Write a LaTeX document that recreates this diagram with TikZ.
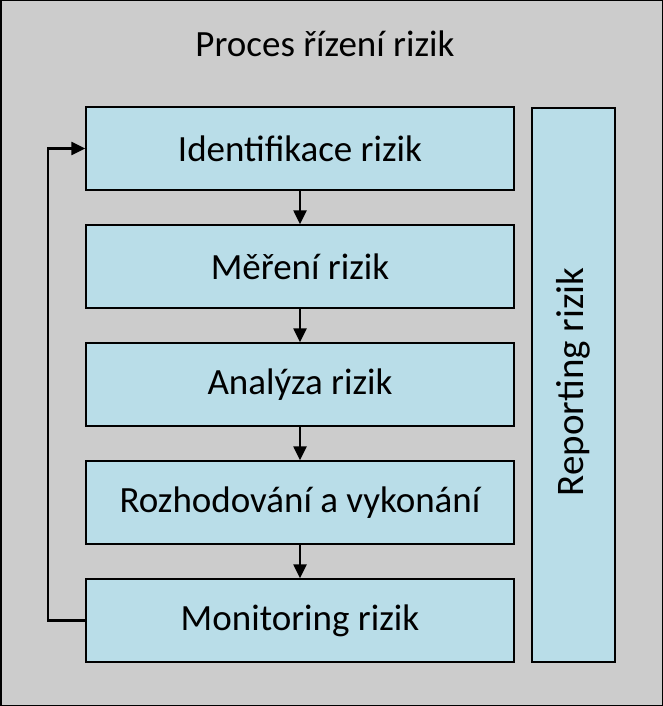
\documentclass[tikz,border=0pt]{standalone}
\usepackage{fontspec}
\setmainfont{Carlito}
\usetikzlibrary{arrows.meta}
\definecolor{bggray}{HTML}{CCCCCC}
\definecolor{boxblue}{HTML}{B9DDE8}
\begin{document}
\begin{tikzpicture}[x=1pt,y=-1pt,
  stepbox/.style={draw=black,line width=1.4pt,fill=boxblue,minimum width=428pt,minimum height=83pt,inner sep=0pt,font=\fontsize{37}{40}\selectfont},
  conn/.style={line width=2.4pt,-{Triangle[length=14pt,width=13pt]}}]
\useasboundingbox (0,0) rectangle (663,706);
\draw[fill=bggray,draw=black,line width=1.5pt] (0.75,0.75) rectangle (662.25,705.25);
\node[font=\fontsize{37}{40}\selectfont] (title) at (325,44) {Proces řízení rizik};
\node[stepbox] (b1) at (300,148.5) {Identifikace rizik};
\node[stepbox] (b2) at (300,266.5) {Měření rizik};
\node[stepbox] (b3) at (300,384.5) {Analýza rizik};
\node[stepbox] (b4) at (300,502.5) {Rozhodování a vykonání};
\node[stepbox] (b5) at (300,620.5) {Monitoring rizik};
\node[stepbox,minimum width=83pt,minimum height=554pt] (rep) at (573.5,385) {};
\node[rotate=90,font=\fontsize{39}{42}\selectfont] (reptext) at (573,382) {Reporting rizik};
\draw[conn] (b1.south) -- (b2.north);
\draw[conn] (b2.south) -- (b3.north);
\draw[conn] (b3.south) -- (b4.north);
\draw[conn] (b4.south) -- (b5.north);
\coordinate (c1) at (48,620.5);
\coordinate (c2) at (48,148.5);
\draw[conn] (b5.west) -- (c1) -- (c2) -- (b1.west);
\end{tikzpicture}
\end{document}
